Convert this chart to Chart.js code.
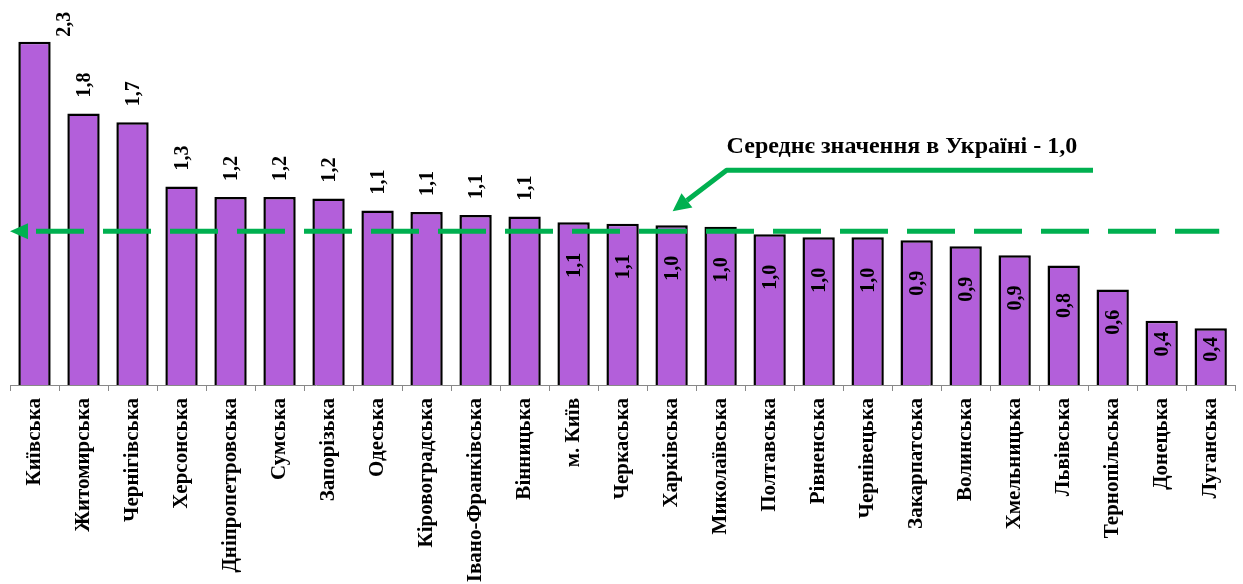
<!DOCTYPE html>
<html>
<head>
<meta charset="utf-8">
<script src="https://cdn.jsdelivr.net/npm/chart.js@4.4.1/dist/chart.umd.min.js"></script>
<style>
  html, body { margin: 0; padding: 0; background: #ffffff; }
  #wrap { width: 1243px; height: 584px; position: relative; }
</style>
</head>
<body>
<div id="wrap"><canvas id="c" width="1243" height="584"></canvas></div>
<script>
// ---- data ----
const regions = ["Київська","Житомирська","Чернігівська","Херсонська","Дніпропетровська","Сумська","Запорізька","Одеська","Кіровоградська","Івано-Франківська","Вінницька","м. Київ","Черкаська","Харківська","Миколаївська","Полтавська","Рівненська","Чернівецька","Закарпатська","Волинська","Хмельницька","Львівська","Тернопільська","Донецька","Луганська"];
const values = [2.30, 1.82, 1.76, 1.33, 1.26, 1.26, 1.25, 1.17, 1.16, 1.14, 1.13, 1.09, 1.08, 1.07, 1.06, 1.01, 0.99, 0.99, 0.97, 0.93, 0.87, 0.80, 0.64, 0.43, 0.38];
const valueLabels = ["2,3","1,8","1,7","1,3","1,2","1,2","1,2","1,1","1,1","1,1","1,1","1,1","1,1","1,0","1,0","1,0","1,0","1,0","0,9","0,9","0,9","0,8","0,6","0,4","0,4"];
const averageValue = 1.03;
const averageText = "Середнє значення в Україні - 1,0";
const labelsOutsideCount = 11;

const FONT = "'Liberation Serif', 'Times New Roman', serif";
const GREEN = "#00b050";

const overlay = {
  id: 'overlay',
  afterDatasetsDraw(chart) {
    const ctx = chart.ctx;
    const meta = chart.getDatasetMeta(0);
    const xs = chart.scales.x, ys = chart.scales.y;
    const base = ys.getPixelForValue(0);

    // value labels
    ctx.save();
    ctx.fillStyle = '#000';
    ctx.font = "bold 20px " + FONT;
    ctx.textBaseline = 'middle';
    meta.data.forEach((bar, i) => {
      const top = bar.y;
      const txt = valueLabels[i];
      const w = ctx.measureText(txt).width;
      let cx = bar.x;
      let cy;
      if (i < labelsOutsideCount) {
        cy = top - 16 - w / 2;
        if (cy - w / 2 < 12) {
          // no room above: label sits beside the bar
          cx = bar.x + 29;
          cy = top - 5 - w / 2;
        }
      } else {
        const h = base - top;
        cy = top + Math.min(43, h * 0.3 + 4);
        if (cy - w / 2 < top + 4) cy = top + 4 + w / 2;
      }
      ctx.save();
      ctx.translate(cx, cy);
      ctx.rotate(-Math.PI / 2);
      ctx.textAlign = 'center';
      ctx.fillText(txt, 0, 1);
      ctx.restore();
    });
    ctx.restore();

    // average dashed line with arrow
    const ay = ys.getPixelForValue(averageValue);
    const left = chart.chartArea.left;
    ctx.save();
    ctx.strokeStyle = GREEN;
    ctx.fillStyle = GREEN;
    ctx.lineWidth = 5;
    ctx.setLineDash([48, 19]);
    ctx.beginPath();
    ctx.moveTo(left + 26, ay);
    ctx.lineTo(chart.chartArea.right - 16, ay);
    ctx.stroke();
    ctx.setLineDash([]);
    ctx.beginPath();
    ctx.moveTo(left, ay);
    ctx.lineTo(left + 18, ay - 8);
    ctx.lineTo(left + 18, ay + 8);
    ctx.closePath();
    ctx.fill();

    // annotation
    const tipX = xs.getPixelForValue(13) + 1;
    const tipY = ay - 20;
    const sx = tipX + 54, sy = tipY - 41;
    ctx.lineWidth = 5;
    ctx.beginPath();
    ctx.moveTo(1093, sy);
    ctx.lineTo(sx, sy);
    const ang = Math.atan2(tipY - sy, tipX - sx);
    const headLen = 18, headW = 9;
    const bx = tipX - headLen * Math.cos(ang), by = tipY - headLen * Math.sin(ang);
    ctx.lineTo(bx, by);
    ctx.lineJoin = 'round';
    ctx.stroke();
    ctx.beginPath();
    ctx.moveTo(tipX, tipY);
    ctx.lineTo(bx + headW * Math.sin(ang), by - headW * Math.cos(ang));
    ctx.lineTo(bx - headW * Math.sin(ang), by + headW * Math.cos(ang));
    ctx.closePath();
    ctx.fill();

    ctx.fillStyle = '#000';
    ctx.font = "bold 24px " + FONT;
    ctx.textAlign = 'left';
    ctx.textBaseline = 'alphabetic';
    ctx.fillText(averageText, sx, sy - 17);
    ctx.restore();
  }
};

new Chart(document.getElementById('c'), {
  type: 'bar',
  data: {
    labels: regions,
    datasets: [{
      data: values,
      backgroundColor: '#b35fda',
      borderColor: '#000000',
      borderWidth: 2.5,
      barPercentage: 0.66,
      categoryPercentage: 1.0
    }]
  },
  options: {
    responsive: false,
    animation: false,
    events: [],
    layout: { padding: { left: 10, right: 5, top: 0, bottom: 0 } },
    plugins: { legend: { display: false }, tooltip: { enabled: false } },
    scales: {
      x: {
        offset: true,
        grid: { display: true, drawOnChartArea: false, drawTicks: true, tickLength: 6, color: '#888888', offset: true },
        border: { display: true, color: '#888888', width: 1 },
        ticks: {
          autoSkip: false,
          minRotation: 90,
          maxRotation: 90,
          padding: 7,
          color: '#000000',
          font: { family: FONT, size: 21, weight: 'bold' }
        },
        afterFit(scale) { scale.height = 199; }
      },
      y: {
        display: false,
        min: 0,
        max: 2.58
      }
    }
  },
  plugins: [overlay]
});
</script>
</body>
</html>
